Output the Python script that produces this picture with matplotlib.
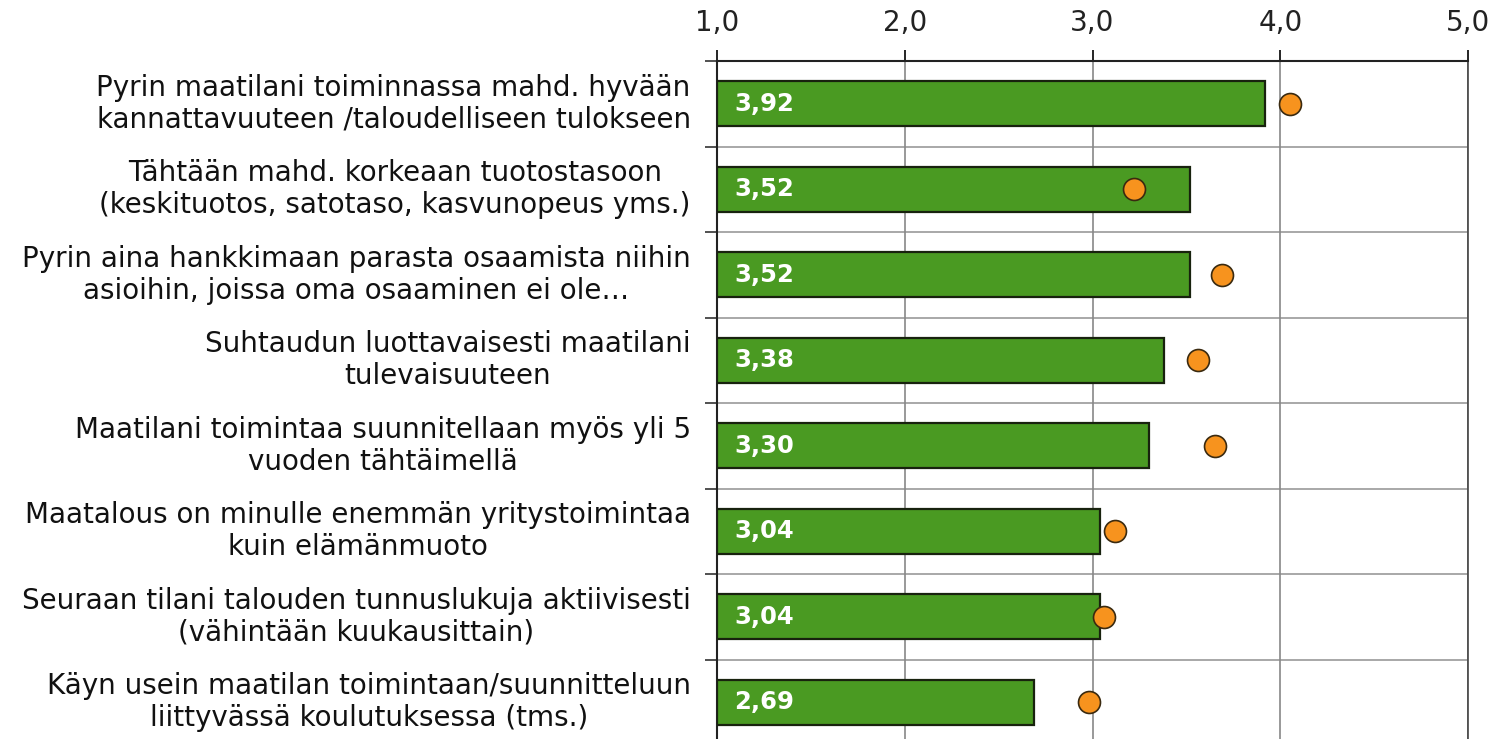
import matplotlib.pyplot as plt

labels = [
    "Pyrin maatilani toiminnassa mahd. hyvään\nkannattavuuteen /taloudelliseen tulokseen",
    "Tähtään mahd. korkeaan tuotostasoon\n(keskituotos, satotaso, kasvunopeus yms.)",
    "Pyrin aina hankkimaan parasta osaamista niihin\nasioihin, joissa oma osaaminen ei ole…",
    "Suhtaudun luottavaisesti maatilani\ntulevaisuuteen",
    "Maatilani toimintaa suunnitellaan myös yli 5\nvuoden tähtäimellä",
    "Maatalous on minulle enemmän yritystoimintaa\nkuin elämänmuoto",
    "Seuraan tilani talouden tunnuslukuja aktiivisesti\n(vähintään kuukausittain)",
    "Käyn usein maatilan toimintaan/suunnitteluun\nliittyvässä koulutuksessa (tms.)",
]
bar_values = [3.92, 3.52, 3.52, 3.38, 3.30, 3.04, 3.04, 2.69]
dot_values = [4.05, 3.22, 3.69, 3.56, 3.65, 3.12, 3.06, 2.98]
xticks = [1, 2, 3, 4, 5]

W, H = 1503, 739
fig = plt.figure(figsize=(W / 100, H / 100), dpi=100)
# axes box in pixels: x 717..1468, y 61..745 (bottom is cut off)
ax = fig.add_axes([717 / W, (H - 745) / H, (1468 - 717) / W, (745 - 61) / H])

n = len(labels)
ypos = list(range(n))
ax.barh(ypos, [v - 1 for v in bar_values], left=1, height=0.53,
        color="#4a9a22", edgecolor="#18220e", linewidth=1.6, zorder=3)
ax.scatter(dot_values, ypos, s=250, color="#f7931e", edgecolor="#3a2a10",
           linewidth=1.2, zorder=4)

for y, v in zip(ypos, bar_values):
    ax.text(1.09, y, f"{v:.2f}".replace(".", ","), color="white",
            fontweight="bold", fontsize=17.5, va="center", ha="left", zorder=5)

ax.set_xlim(1, 5)
ax.set_ylim(n - 0.5, -0.5)
ax.xaxis.tick_top()
ax.set_xticks(xticks)
ax.set_xticklabels([f"{t:.1f}".replace(".", ",") for t in xticks],
                   fontsize=20, color="#222222")
ax.tick_params(axis="x", length=8, width=1.2, pad=9)
ax.grid(axis="x", color="#888888", linewidth=1.2, zorder=0)

# horizontal lines at category boundaries
for b in range(1, n):
    ax.axhline(b - 0.5, color="#999999", linewidth=1.2, zorder=0)

ax.set_yticks([b - 0.5 for b in range(n + 1)], minor=False)
ax.set_yticklabels([])
ax.tick_params(axis="y", length=9, width=1.2, color="#333333")
for y, lab in zip(ypos, labels):
    ax.text(-0.035, y, lab, transform=ax.get_yaxis_transform(), ha="right",
            va="center", multialignment="center", fontsize=20,
            color="#111111", linespacing=1.2)

for side in ["top", "left"]:
    ax.spines[side].set_color("#222222")
    ax.spines[side].set_linewidth(1.5)
ax.spines["right"].set_color("#444444")
ax.spines["right"].set_linewidth(1.2)
ax.spines["bottom"].set_visible(False)

fig.savefig("out.png", dpi=100)
